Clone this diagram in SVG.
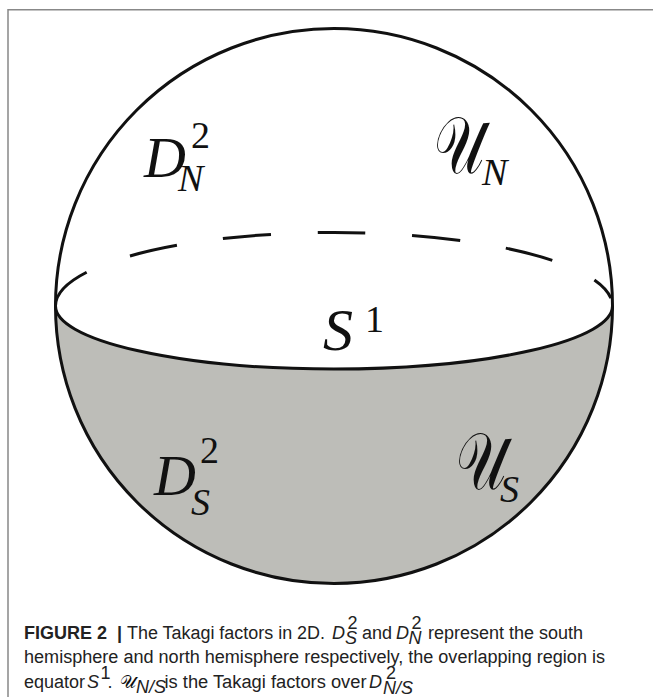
<svg xmlns="http://www.w3.org/2000/svg" width="653" height="697" viewBox="0 0 653 697">
<style>
.ln{fill:none;stroke:#111;stroke-width:3}
.m{font-family:"Liberation Serif","DejaVu Serif",serif;font-style:italic;fill:#111}
.r{font-family:"Liberation Serif","DejaVu Serif",serif;font-style:normal;fill:#111}
.cal{font-family:"DejaVu Serif","DejaVu Sans","Noto Sans",serif;font-style:normal;fill:#111}
.cap{font-family:"Liberation Sans",Arial,sans-serif;font-size:18px;fill:#222}
.ci{font-style:italic}
</style>
<rect width="653" height="697" fill="#fff"/>
<path d="M8,697 V9.7 H653" fill="none" stroke="#888" stroke-width="1.5"/>
<g id="sphere">
<path id="south" d="M55.5,306 A278.5,63 0 0 0 612.5,306 A278.5,277.5 0 0 1 55.5,306 Z" fill="#bdbdb8"/>
<ellipse cx="334" cy="306" rx="278.5" ry="277.5" class="ln"/>
</g>
<g id="connectors">
<path id="equator-back" d="M55.5,306 A278.5,73.5 0 0 1 612.5,306" class="ln" pathLength="600" stroke-dasharray="48 46.5 48 46.5 48 46.5 48 46.5 48 46.5 48 46.5 25 100"/>
<path id="equator-front" d="M55.5,306 A278.5,63 0 0 0 612.5,306" class="ln"/>
</g>
<g id="label-DN">
<text class="m" x="144" y="177" font-size="58">D</text>
<text class="r" x="191" y="148" font-size="38">2</text>
<text class="m" x="178" y="191" font-size="38">N</text>
</g>
<g id="label-UN">
<text class="cal" transform="translate(434,173) scale(1,1.45)" font-size="56">𝒰</text>
<text class="m" x="482" y="185" font-size="38">N</text>
</g>
<g id="label-S1">
<text class="m" x="323" y="350" font-size="60">S</text>
<text class="r" x="365" y="332" font-size="38">1</text>
</g>
<g id="label-DS">
<text class="m" x="154" y="495" font-size="58">D</text>
<text class="r" x="200" y="463" font-size="38">2</text>
<text class="m" x="191" y="515" font-size="38">S</text>
</g>
<g id="label-US">
<text class="cal" transform="translate(456,489) scale(1,1.45)" font-size="56">𝒰</text>
<text class="m" x="500" y="502" font-size="38">S</text>
</g>
<g id="caption">
<text class="cap" x="24" y="638.5" font-weight="bold">FIGURE 2</text>
<text class="cap" x="117" y="638.5" font-weight="bold">|</text>
<text class="cap" x="127" y="638.5" textLength="198" lengthAdjust="spacingAndGlyphs">The Takagi factors in 2D.</text>
<text class="cap ci" x="332" y="638.5">D</text>
<text class="cap" x="347.5" y="629" font-size="11">2</text>
<text class="cap ci" x="345" y="643.5" font-size="11">S</text>
<text class="cap" x="362" y="638.5">and</text>
<text class="cap ci" x="396" y="638.5">D</text>
<text class="cap" x="411.5" y="629" font-size="11">2</text>
<text class="cap ci" x="408.5" y="643.5" font-size="11">N</text>
<text class="cap" x="428" y="638.5" textLength="155" lengthAdjust="spacingAndGlyphs">represent the south</text>
<text class="cap" x="24" y="663" textLength="581" lengthAdjust="spacingAndGlyphs">hemisphere and north hemisphere respectively, the overlapping region is</text>
<text class="cap" x="24" y="687.5">equator</text>
<text class="cap ci" x="87" y="687.5">S</text>
<text class="cap" x="100.5" y="679" font-size="11">1</text>
<text class="cap" x="107.5" y="687.5">.</text>
<text class="cal" x="120" y="687.5" font-size="18">𝒰</text>
<text class="cap ci" x="136" y="693" font-size="11">N/S</text>
<text class="cap" x="164.5" y="687.5" textLength="202" lengthAdjust="spacingAndGlyphs">is the Takagi factors over</text>
<text class="cap ci" x="369" y="687.5">D</text>
<text class="cap" x="386" y="678.5" font-size="11">2</text>
<text class="cap ci" x="383" y="693.5" font-size="11">N/S</text>
<text class="cap" x="406" y="687.5">.</text>
</g>
</svg>
